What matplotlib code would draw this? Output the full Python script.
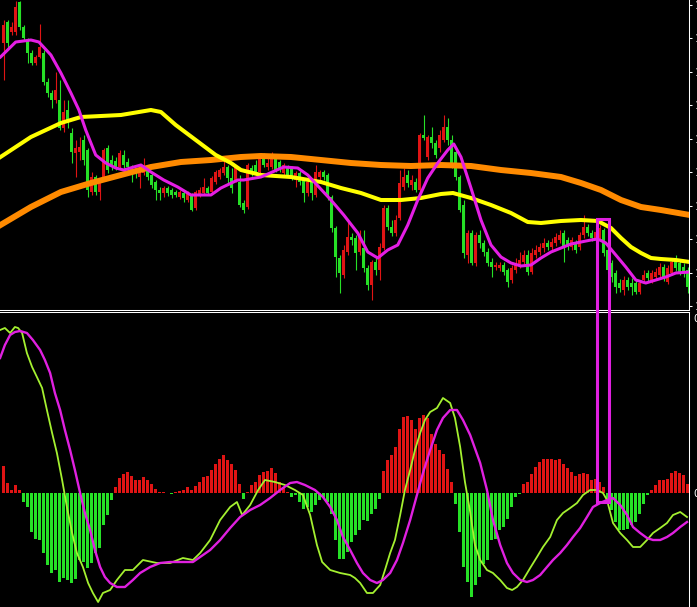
# -*- coding: utf-8 -*-
"""
Graphique bougies + moyennes mobiles, avec MACD en dessous (fond noir).
"""

import numpy as np
import matplotlib
matplotlib.use("Agg")
import matplotlib.pyplot as plt
from matplotlib.patches import Rectangle
from matplotlib.ticker import FormatStrFormatter

# ------- Données des bougies, en points (1 point = 0.0001)

ouv = [11267, 11288, 11278, 11278, 11308, 11283, 11270, 11257, 11247, 11253,
       11257, 11228, 11217, 11210, 11210, 11182, 11200, 11177, 11157, 11158,
       11170, 11160, 11118, 11133, 11118, 11133, 11162, 11150, 11149, 11143,
       11155, 11148, 11143, 11139, 11133, 11137, 11140, 11135, 11128, 11120,
       11117, 11122, 11120, 11118, 11113, 11117, 11110, 11115, 11102, 11115,
       11117, 11122, 11118, 11128, 11133, 11137, 11143, 11132, 11130, 11128,
       11107, 11103, 11142, 11145, 11138, 11153, 11143, 11143, 11152, 11148,
       11137, 11143, 11142, 11130, 11137, 11130, 11117, 11128, 11115, 11133,
       11138, 11135, 11113, 11082, 11052, 11035, 11058, 11073, 11072, 11058,
       11062, 11042, 11025, 11048, 11040, 11062, 11102, 11083, 11077, 11092,
       11123, 11135, 11125, 11128, 11120, 11175, 11153, 11173, 11167, 11162,
       11170, 11183, 11170, 11158, 11133, 11105, 11055, 11077, 11047, 11075,
       11067, 11058, 11048, 11043, 11042, 11045, 11040, 11030, 11040, 11045,
       11048, 11055, 11038, 11055, 11058, 11062, 11067, 11063, 11067, 11070,
       11077, 11070, 11063, 11067, 11063, 11075, 11083, 11077, 11070, 11072,
       11080, 11060, 11047, 11037, 11027, 11020, 11030, 11027, 11027, 11018,
       11030, 11037, 11030, 11033, 11035, 11043, 11028, 11037, 11050, 11047,
       11043, 11040]

haut = [11290, 11290, 11288, 11309, 11309, 11285, 11272, 11260, 11255, 11286,
        11260, 11232, 11220, 11238, 11230, 11210, 11210, 11182, 11170, 11173,
        11175, 11162, 11138, 11135, 11132, 11162, 11165, 11155, 11153, 11160,
        11160, 11152, 11145, 11141, 11145, 11152, 11142, 11137, 11130, 11123,
        11124, 11124, 11122, 11120, 11120, 11119, 11119, 11117, 11120, 11123,
        11132, 11124, 11134, 11140, 11142, 11150, 11145, 11142, 11145, 11135,
        11110, 11147, 11145, 11150, 11155, 11157, 11152, 11158, 11155, 11150,
        11147, 11145, 11144, 11139, 11139, 11132, 11130, 11130, 11145, 11140,
        11140, 11137, 11115, 11084, 11055, 11065, 11090, 11077, 11075, 11080,
        11080, 11045, 11050, 11052, 11067, 11105, 11105, 11090, 11095, 11140,
        11142, 11140, 11135, 11132, 11177, 11195, 11175, 11183, 11170, 11180,
        11195, 11192, 11175, 11160, 11135, 11110, 11080, 11080, 11078, 11080,
        11070, 11062, 11052, 11048, 11048, 11048, 11042, 11045, 11052, 11058,
        11060, 11060, 11062, 11065, 11067, 11072, 11070, 11072, 11077, 11080,
        11080, 11073, 11073, 11070, 11078, 11095, 11086, 11080, 11082, 11085,
        11082, 11063, 11050, 11040, 11031, 11034, 11033, 11032, 11030, 11030,
        11040, 11040, 11040, 11042, 11047, 11046, 11045, 11052, 11055, 11050,
        11047, 11043]

bas = [11230, 11263, 11275, 11275, 11280, 11270, 11247, 11245, 11245, 11252,
       11225, 11213, 11202, 11207, 11180, 11178, 11182, 11147, 11133, 11150,
       11145, 11113, 11115, 11115, 11110, 11130, 11137, 11140, 11140, 11140,
       11142, 11140, 11128, 11132, 11122, 11135, 11130, 11122, 11110, 11110,
       11113, 11114, 11112, 11113, 11111, 11108, 11108, 11099, 11100, 11113,
       11115, 11115, 11116, 11126, 11131, 11135, 11127, 11117, 11128, 11103,
       11097, 11101, 11134, 11135, 11136, 11143, 11140, 11141, 11138, 11138,
       11134, 11133, 11130, 11123, 11125, 11108, 11114, 11110, 11113, 11130,
       11130, 11110, 11078, 11033, 11017, 11032, 11055, 11065, 11040, 11055,
       11038, 11020, 11010, 11035, 11030, 11060, 11080, 11074, 11074, 11090,
       11120, 11123, 11120, 11118, 11118, 11170, 11150, 11162, 11152, 11158,
       11168, 11165, 11142, 11130, 11098, 11052, 11047, 11045, 11044, 11062,
       11054, 11044, 11033, 11040, 11039, 11035, 11023, 11027, 11037, 11042,
       11045, 11035, 11036, 11052, 11055, 11058, 11060, 11060, 11064, 11067,
       11048, 11060, 11060, 11057, 11060, 11072, 11074, 11069, 11067, 11070,
       11054, 11037, 11028, 11017, 11018, 11015, 11020, 11015, 11016, 11016,
       11027, 11029, 11027, 11030, 11032, 11029, 11026, 11035, 11039, 11035,
       11033, 11017]

ferm = [11285, 11267, 11283, 11303, 11283, 11272, 11257, 11247, 11253, 11263,
        11228, 11217, 11210, 11220, 11182, 11198, 11187, 11158, 11162, 11163,
        11150, 11120, 11133, 11118, 11130, 11160, 11140, 11143, 11143, 11157,
        11145, 11143, 11137, 11136, 11142, 11143, 11133, 11125, 11120, 11117,
        11122, 11117, 11115, 11115, 11118, 11112, 11117, 11100, 11118, 11120,
        11123, 11117, 11132, 11138, 11140, 11143, 11132, 11122, 11143, 11105,
        11100, 11145, 11137, 11137, 11152, 11145, 11147, 11153, 11140, 11140,
        11145, 11135, 11133, 11137, 11128, 11117, 11128, 11117, 11138, 11138,
        11133, 11113, 11082, 11053, 11037, 11060, 11073, 11070, 11057, 11075,
        11042, 11025, 11048, 11040, 11063, 11102, 11083, 11077, 11090, 11127,
        11133, 11127, 11130, 11120, 11175, 11172, 11173, 11167, 11155, 11175,
        11183, 11170, 11145, 11133, 11100, 11057, 11077, 11047, 11075, 11067,
        11058, 11047, 11043, 11045, 11045, 11038, 11028, 11042, 11047, 11050,
        11055, 11038, 11057, 11060, 11063, 11067, 11063, 11068, 11073, 11075,
        11063, 11063, 11070, 11060, 11075, 11083, 11077, 11072, 11078, 11082,
        11057, 11040, 11033, 11023, 11022, 11030, 11023, 11023, 11018, 11027,
        11035, 11032, 11037, 11038, 11043, 11032, 11042, 11048, 11042, 11038,
        11037, 11023]

# moyennes mobiles (position en barres, valeur en points)
mm_rapide_x = [-0.8, 3.0, 6.8, 8.8, 11.8, 14.3, 16.8, 18.8, 20.5, 23.0,
               25.5, 28.0, 30.0, 32.5, 34.3, 36.8, 40.0, 43.5, 46.8, 49.3,
               51.8, 54.3, 58.5, 60.0, 64.3, 70.0, 73.5, 76.0, 81.8, 85.0,
               88.5, 91.0, 93.5, 96.0, 98.5, 101.0, 103.5, 106.0, 108.5, 111.0,
               112.5, 114.3, 116.8, 119.3, 121.8, 124.3, 126.8, 129.3, 131.8, 134.3,
               136.8, 139.3, 141.8, 144.3, 146.8, 148.5, 150.5, 153.0, 155.5, 158.0,
               160.5, 163.0, 165.5, 168.0, 171.5]
mm_rapide = [11253, 11268, 11270, 11268, 11255, 11237, 11217, 11200, 11180, 11155,
             11147, 11142, 11140, 11143, 11145, 11138, 11130, 11123, 11115, 11115,
             11115, 11122, 11130, 11130, 11133, 11143, 11142, 11135, 11110, 11095,
             11077, 11058, 11052, 11060, 11065, 11085, 11110, 11132, 11147, 11160,
             11166, 11153, 11122, 11090, 11065, 11053, 11047, 11044, 11045, 11052,
             11058, 11062, 11066, 11068, 11070, 11071, 11067, 11055, 11043, 11030,
             11027, 11030, 11033, 11037, 11038]

mm_moy_x = [-0.8, 6.8, 14.3, 19.3, 29.3, 36.8, 39.3, 43.0, 48.0, 53.0,
            56.8, 59.3, 64.3, 71.8, 79.3, 84.3, 89.3, 94.3, 99.3, 104.3,
            109.3, 112.3, 116.8, 121.8, 126.8, 131.0, 134.3, 139.3, 144.3, 148.5,
            151.8, 154.3, 156.8, 159.3, 161.8, 164.3, 168.0, 171.5]
mm_moy = [11153, 11173, 11187, 11193, 11195, 11200, 11198, 11185, 11170, 11155,
          11147, 11140, 11135, 11133, 11128, 11122, 11117, 11110, 11110, 11112,
          11116, 11117, 11112, 11105, 11097, 11088, 11087, 11089, 11090, 11089,
          11082, 11072, 11063, 11057, 11052, 11051, 11050, 11048]

mm_lente_x = [-0.8, 6.8, 14.3, 21.8, 29.3, 36.8, 44.3, 51.8, 59.3, 64.3,
              71.8, 79.3, 86.8, 94.3, 101.8, 109.3, 116.8, 124.3, 131.8, 139.3,
              144.3, 149.3, 154.3, 159.3, 164.3, 171.5]
mm_lente = [11085, 11103, 11118, 11127, 11135, 11143, 11148, 11150, 11153, 11154,
            11153, 11150, 11147, 11145, 11144, 11145, 11144, 11140, 11137, 11133,
            11127, 11120, 11110, 11103, 11100, 11095]

# ------- MACD, en unités de 1e-5

histo = [54, 20, 6, 16, 6,
         -18, -28, -78, -92, -94, -120, -144, -160, -154, -178, -170, -174, -180,
         -172, -134, -138, -150, -140, -120, -110, -64, -44, -14,
         12, 30, 38, 42, 34, 26, 26, 32, 26, 18, 8, 2, 2, 1, -2, 2, 4, 6, 12, 6,
         14, 22, 32, 34, 46, 58, 68, 76, 66, 58, 46, 18,
         -12, 2, 16, 22, 36, 42, 44, 50, 40, 22, 12, 2,
         -8, -4, -18, -32, -28, -38, -24, -14, -10, -18, -42, -94, -132, -132,
         -118, -98, -84, -74, -54, -56, -42, -32, -12,
         44, 66, 76, 92, 128, 152, 154, 146, 128, 150, 156, 150, 118, 98, 86, 78,
         48, 22,
         -22, -78, -148, -178, -208, -184, -168, -142, -134, -94, -92, -74, -68,
         -52, -28, -8, -2,
         18, 22, 38, 52, 62, 68, 68, 68, 66, 68, 58, 50, 42, 34, 38, 40, 38, 26,
         28, 22, 12,
         -14, -34, -58, -74, -74, -72, -64, -58, -42, -22, -4,
         6, 16, 26, 26, 28, 40, 44, 40, 36, 18]

dif_x = [-0.9, 0.3, 1.6, 2.8, 3.6, 4.6, 5.8, 7.1, 8.3, 9.6,
         10.8, 12.1, 13.3, 14.6, 15.8, 17.1, 18.3, 19.8, 21.1, 22.3,
         23.6, 24.8, 26.6, 28.3, 30.3, 32.3, 34.8, 38.3, 41.6, 44.8,
         47.3, 49.1, 51.6, 54.1, 56.6, 58.3, 59.6, 61.6, 63.6, 65.3,
         67.8, 70.3, 72.8, 74.8, 76.6, 78.3, 79.6, 81.6, 84.1, 86.6,
         87.8, 89.1, 90.8, 92.3, 94.1, 95.3, 96.6, 97.8, 99.1, 100.3,
         101.6, 102.8, 104.1, 105.3, 106.6, 108.3, 109.8, 111.6, 112.8, 114.1,
         115.3, 116.6, 117.8, 119.1, 120.8, 122.3, 124.1, 125.8, 127.1, 128.3,
         129.8, 131.6, 133.3, 134.8, 136.6, 138.3, 139.8, 141.6, 143.3, 144.8,
         146.6, 148.3, 149.8, 150.8, 152.3, 154.1, 155.8, 157.3, 159.1, 160.8,
         162.3, 164.1, 165.8, 167.3, 169.1, 170.8]
dif = [326, 330, 320, 332, 330, 320, 280, 252, 232, 210,
       166, 120, 80, 26, -28, -80, -120, -148, -180, -200,
       -218, -200, -194, -174, -154, -154, -134, -140, -140, -130,
       -134, -120, -94, -54, -28, -18, -44, -24, 6, 26,
       22, 16, 6, -4, -44, -104, -138, -154, -160, -164,
       -170, -180, -200, -200, -184, -154, -120, -94, -44, 6,
       46, 86, 120, 146, 162, 170, 190, 180, 150, 92,
       22, -38, -104, -134, -154, -160, -174, -190, -194, -188,
       -174, -150, -128, -108, -88, -54, -40, -30, -20, -4,
       6, 6, 0, -14, -60, -80, -94, -108, -108, -94,
       -80, -70, -60, -44, -38, -48]

dea_x = [-0.9, 0.3, 1.6, 2.8, 4.1, 5.8, 7.3, 9.1, 10.3, 11.6,
         12.8, 14.1, 15.3, 16.6, 17.8, 19.1, 20.3, 21.6, 22.8, 24.1,
         25.3, 26.6, 28.3, 30.3, 32.3, 34.1, 36.6, 39.1, 41.6, 44.1,
         47.3, 49.1, 51.6, 54.1, 56.6, 59.1, 61.6, 64.1, 66.6, 69.1,
         71.6, 73.3, 75.3, 77.8, 79.8, 81.6, 83.3, 84.8, 86.6, 88.3,
         89.8, 91.6, 93.3, 94.8, 96.6, 98.3, 99.8, 101.6, 103.3, 104.8,
         106.6, 108.3, 109.8, 111.6, 113.3, 114.8, 116.6, 119.1, 120.8, 122.3,
         124.1, 125.8, 127.3, 129.1, 130.8, 132.3, 134.1, 135.8, 137.3, 139.1,
         140.8, 142.3, 144.1, 145.8, 147.3, 149.1, 150.8, 152.3, 154.1, 155.8,
         157.3, 159.1, 160.8, 162.3, 164.1, 165.8, 167.3, 169.1, 170.8]
dea = [270, 296, 316, 322, 324, 320, 306, 286, 266, 240,
       200, 166, 126, 86, 46, 0, -40, -74, -114, -148,
       -168, -180, -188, -188, -174, -160, -148, -140, -138, -138,
       -138, -128, -114, -94, -70, -48, -34, -24, -10, 6,
       20, 22, 16, 6, -8, -28, -54, -88, -114, -140,
       -160, -174, -180, -174, -160, -134, -100, -54, -4, 40,
       86, 126, 150, 166, 166, 146, 116, 60, 6, -54,
       -104, -140, -160, -174, -178, -174, -164, -148, -134, -120,
       -104, -88, -70, -48, -28, -20, -14, -10, -24, -44,
       -68, -80, -90, -94, -94, -88, -80, -68, -58]

# zone encadrée (barres, haut en points, bas en unités MACD)
cadre_barres = (148.4, 151.4)
cadre_haut = 11091
cadre_bas = -17

# ------- Conversion

o = np.array(ouv) / 1e4
h = np.array(haut) / 1e4
l = np.array(bas) / 1e4
c = np.array(ferm) / 1e4
x = np.arange(len(o))
hist = np.array(histo) * 1e-5

ROUGE = '#E01414'
VERT = '#26E026'

# ------- Figure

fig = plt.figure(figsize=(6.97, 6.07), dpi=100, facecolor='black')
ax1 = fig.add_axes([0, 297 / 607, 689 / 697, 310 / 607])
ax2 = fig.add_axes([0, 0, 689 / 697, 295 / 607])

for ax in (ax1, ax2):
    ax.set_facecolor('black')
    ax.set_xlim(-0.925, 171.3)
    ax.set_xticks([])
    ax.yaxis.tick_right()
    for s in ('left', 'top', 'bottom', 'right'):
        ax.spines[s].set_visible(False)
    ax.spines['right'].set_visible(True)
    ax.spines['right'].set_color('white')
    ax.spines['right'].set_linewidth(0.75)
ax1.spines['bottom'].set_visible(True)
ax1.spines['bottom'].set_color('white')
ax1.spines['bottom'].set_linewidth(0.75)
ax2.spines['top'].set_visible(True)
ax2.spines['top'].set_color('white')
ax2.spines['top'].set_linewidth(0.75)

# bougies : rouge = hausse, vert = baisse
coul = [ROUGE if cc >= oo else VERT for oo, cc in zip(o, c)]
ax1.vlines(x, l, h, colors=coul, lw=0.8, zorder=2)
ax1.bar(x, np.maximum(np.abs(c - o), 0.0001), bottom=np.minimum(o, c),
        width=0.65, color=coul, linewidth=0, zorder=3)

ax1.plot(mm_lente_x, np.array(mm_lente) / 1e4, color='#FF8A00', lw=4.3, zorder=4)
ax1.plot(mm_moy_x, np.array(mm_moy) / 1e4, color='#FFFF00', lw=2.9, zorder=5)
ax1.plot(mm_rapide_x, np.array(mm_rapide) / 1e4, color='#E41EE4', lw=2.2, zorder=6)

ax1.set_ylim(1.1000, 1.1310)
ax1.set_yticks(1.1004 + 0.00335 * np.arange(10))
ax1.yaxis.set_major_formatter(FormatStrFormatter('%.4f'))
ax1.tick_params(axis='y', colors='white', length=2.5, width=0.75, pad=1.5,
                labelsize=7.5)

# MACD
ax2.bar(x, hist, width=0.75, color=[ROUGE if v >= 0 else VERT for v in hist],
        linewidth=0, zorder=2)
ax2.plot(dif_x, np.array(dif) * 1e-5, color='#A4F030', lw=1.3, zorder=3)
ax2.plot(dea_x, np.array(dea) * 1e-5, color='#E020E0', lw=1.7, zorder=4)
ax2.set_ylim(-0.00228, 0.00362)
ax2.set_yticks([0, 0.0035])
ax2.set_yticklabels(['0.00', '0.003500'])
ax2.tick_params(axis='y', colors='white', length=0, pad=3, labelsize=7.5)

# cadre magenta sur les deux panneaux
inv = fig.transFigure.inverted()
x0, y_haut = inv.transform(ax1.transData.transform((cadre_barres[0], cadre_haut / 1e4)))
x1, y_bas = inv.transform(ax2.transData.transform((cadre_barres[1], cadre_bas * 1e-5)))
fig.add_artist(Rectangle((x0, y_bas), x1 - x0, y_haut - y_bas,
                         transform=fig.transFigure, fill=False,
                         edgecolor='#E020E0', lw=2.2, zorder=10))

fig.savefig('out.png', dpi=100, facecolor='black')
